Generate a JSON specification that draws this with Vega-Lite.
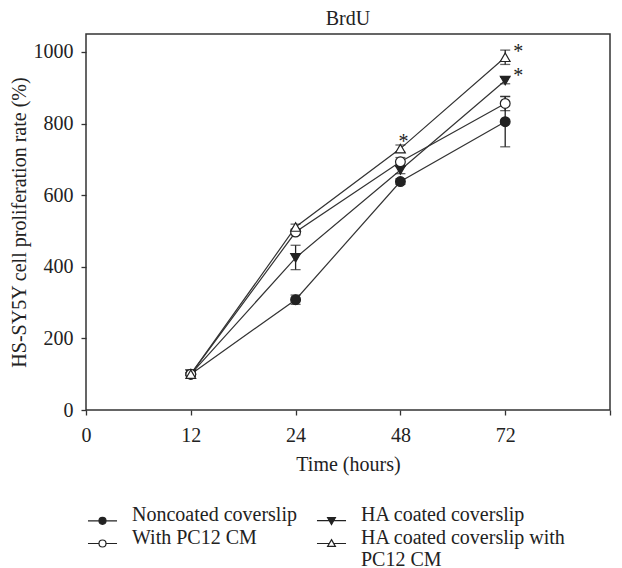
{
  "$schema": "https://vega.github.io/schema/vega-lite/v6.json",
  "width": 524,
  "height": 376,
  "autosize": "none",
  "padding": {"left": 86, "top": 34, "right": 12, "bottom": 158},
  "config": {
    "font": "Liberation Serif",
    "view": {"stroke": "#333", "strokeWidth": 1.5},
    "axis": {
      "domain": false,
      "grid": false,
      "labelFont": "Liberation Serif",
      "labelFontSize": 20,
      "labelColor": "#222",
      "titleFont": "Liberation Serif",
      "titleFontSize": 20,
      "titleFontWeight": "normal",
      "titleColor": "#222",
      "tickColor": "#333",
      "tickWidth": 1.3,
      "tickSize": 5
    },
    "axisY": {"labelPadding": 8, "titlePadding": 4},
    "axisX": {"labelPadding": 10, "titlePadding": 9},
    "legend": {
      "orient": "none",
      "direction": "horizontal",
      "legendX": 6,
      "legendY": 476,
      "columns": 2,
      "padding": 0,
      "labelFont": "Liberation Serif",
      "labelFontSize": 20,
      "labelColor": "#222",
      "labelBaseline": "alphabetic",
      "labelLimit": 500,
      "labelOffset": 19,
      "columnPadding": 17,
      "rowPadding": 0,
      "symbolSize": 380,
      "symbolStrokeColor": "#222",
      "symbolStrokeWidth": 1.2
    }
  },
  "title": {"text": "BrdU", "font": "Liberation Serif", "fontSize": 20, "fontWeight": "normal", "color": "#222", "offset": 5},
  "data": {
    "values": [
      {"series": "Noncoated coverslip", "time": 12, "rate": 100, "lo": 96, "hi": 104},
      {"series": "Noncoated coverslip", "time": 24, "rate": 308, "lo": 295, "hi": 321},
      {"series": "Noncoated coverslip", "time": 48, "rate": 638, "lo": 630, "hi": 646},
      {"series": "Noncoated coverslip", "time": 72, "rate": 805, "lo": 735, "hi": 875},
      {"series": "HA coated coverslip", "time": 12, "rate": 100, "lo": 96, "hi": 104},
      {"series": "HA coated coverslip", "time": 24, "rate": 425, "lo": 392, "hi": 460},
      {"series": "HA coated coverslip", "time": 48, "rate": 670, "lo": 660, "hi": 680},
      {"series": "HA coated coverslip", "time": 72, "rate": 920, "lo": 911, "hi": 929, "star": "*"},
      {"series": "With PC12 CM", "time": 12, "rate": 100, "lo": 96, "hi": 104},
      {"series": "With PC12 CM", "time": 24, "rate": 497, "lo": 489, "hi": 505},
      {"series": "With PC12 CM", "time": 48, "rate": 693, "lo": 681, "hi": 705},
      {"series": "With PC12 CM", "time": 72, "rate": 856, "lo": 836, "hi": 876},
      {"series": "HA coated coverslip with PC12 CM", "time": 12, "rate": 100, "lo": 96, "hi": 104},
      {"series": "HA coated coverslip with PC12 CM", "time": 24, "rate": 511, "lo": 503, "hi": 519},
      {"series": "HA coated coverslip with PC12 CM", "time": 48, "rate": 730, "lo": 720, "hi": 740, "star": "*"},
      {"series": "HA coated coverslip with PC12 CM", "time": 72, "rate": 985, "lo": 965, "hi": 1005, "star": "*"}
    ]
  },
  "encoding": {
    "x": {
      "field": "time",
      "type": "ordinal",
      "scale": {"type": "point", "domain": [0, 12, 24, 48, 72, 96], "padding": 0},
      "axis": {"labelAngle": 0, "labelExpr": "datum.value == 96 ? '' : datum.label", "title": "Time (hours)"}
    }
  },
  "layer": [
    {
      "mark": {"type": "line", "color": "#333", "strokeWidth": 1.2},
      "encoding": {
        "y": {"field": "rate", "type": "quantitative", "scale": {"domain": [0, 1050], "nice": false}, "axis": {"values": [0, 200, 400, 600, 800, 1000], "format": "d", "title": "HS-SY5Y cell proliferation rate (%)"}},
        "detail": {"field": "series"}
      }
    },
    {
      "mark": {"type": "errorbar", "ticks": {"size": 10, "color": "#222", "thickness": 1.3}, "rule": {"color": "#222", "strokeWidth": 1.3}},
      "encoding": {
        "y": {"field": "lo", "type": "quantitative", "title": "HS-SY5Y cell proliferation rate (%)"},
        "y2": {"field": "hi"},
        "detail": {"field": "series"}
      }
    },
    {
      "mark": {"type": "point", "filled": true, "opacity": 1, "stroke": "#222", "strokeWidth": 1.2, "size": 95},
      "encoding": {
        "y": {"field": "rate", "type": "quantitative", "title": "HS-SY5Y cell proliferation rate (%)"},
        "shape": {"field": "series", "type": "nominal", "legend": null, "scale": {"domain": ["Noncoated coverslip", "HA coated coverslip", "With PC12 CM", "HA coated coverslip with PC12 CM"], "range": ["circle", "triangle-down", "circle", "triangle-up"]}},
        "fill": {"field": "series", "type": "nominal", "legend": null, "scale": {"domain": ["Noncoated coverslip", "HA coated coverslip", "With PC12 CM", "HA coated coverslip with PC12 CM"], "range": ["#222", "#222", "white", "white"]}}
      }
    },
    {
      "transform": [{"filter": "datum.star && datum.time == 48"}],
      "mark": {"type": "text", "font": "Liberation Serif", "fontSize": 20, "color": "#222", "dx": 3, "dy": -7, "baseline": "middle"},
      "encoding": {
        "y": {"field": "rate", "type": "quantitative", "title": "HS-SY5Y cell proliferation rate (%)"},
        "text": {"field": "star"}
      }
    },
    {
      "transform": [{"filter": "datum.star && datum.time == 72"}],
      "mark": {"type": "text", "font": "Liberation Serif", "fontSize": 20, "color": "#222", "dx": 13, "dy": -5, "baseline": "middle"},
      "encoding": {
        "y": {"field": "rate", "type": "quantitative", "title": "HS-SY5Y cell proliferation rate (%)"},
        "text": {"field": "star"}
      }
    },
    {
      "transform": [{"filter": "false"}],
      "mark": {"type": "point", "filled": false, "opacity": 1, "strokeWidth": 1.2},
      "encoding": {
        "y": {"field": "rate", "type": "quantitative", "title": "HS-SY5Y cell proliferation rate (%)"},
        "shape": {
          "field": "series", "type": "nominal",
          "scale": {"domain": ["Noncoated coverslip", "HA coated coverslip", "With PC12 CM", "HA coated coverslip with PC12 CM"],
                    "range": [
                      "M-1.49,0H1.49M0.36,0A0.36,0.36,0,1,1,-0.36,0A0.36,0.36,0,1,1,0.36,0Z",
                      "M-1.49,0H1.49M-0.4,-0.3L0.4,-0.3L0,0.4Z",
                      "M-1.49,0H-0.36M0.36,0H1.49M0.36,0A0.36,0.36,0,1,1,-0.36,0A0.36,0.36,0,1,1,0.36,0Z",
                      "M-1.49,0H-0.26M0.26,0H1.49M0,-0.4L0.4,0.3L-0.4,0.3Z"
                    ]},
          "legend": {"title": null, "labelExpr": "datum.label == 'HA coated coverslip with PC12 CM' ? ['HA coated coverslip with', 'PC12 CM'] : datum.label", "encode": {"labels": {"update": {"dy": {"value": 7}, "lineHeight": {"value": 21}}}}}
        },
        "fill": {
          "field": "series", "type": "nominal",
          "scale": {"domain": ["Noncoated coverslip", "HA coated coverslip", "With PC12 CM", "HA coated coverslip with PC12 CM"], "range": ["#222", "#222", "white", "white"]},
          "legend": {"title": null, "labelExpr": "datum.label == 'HA coated coverslip with PC12 CM' ? ['HA coated coverslip with', 'PC12 CM'] : datum.label", "encode": {"labels": {"update": {"dy": {"value": 7}, "lineHeight": {"value": 21}}}}}
        },
        "stroke": {
          "field": "series", "type": "nominal",
          "scale": {"domain": ["Noncoated coverslip", "HA coated coverslip", "With PC12 CM", "HA coated coverslip with PC12 CM"], "range": ["#222", "#222", "#222", "#222"]},
          "legend": {"title": null, "labelExpr": "datum.label == 'HA coated coverslip with PC12 CM' ? ['HA coated coverslip with', 'PC12 CM'] : datum.label", "encode": {"labels": {"update": {"dy": {"value": 7}, "lineHeight": {"value": 21}}}}}
        }
      }
    }
  ],
  "resolve": {"scale": {"shape": "independent", "fill": "independent", "stroke": "independent"}}
}
